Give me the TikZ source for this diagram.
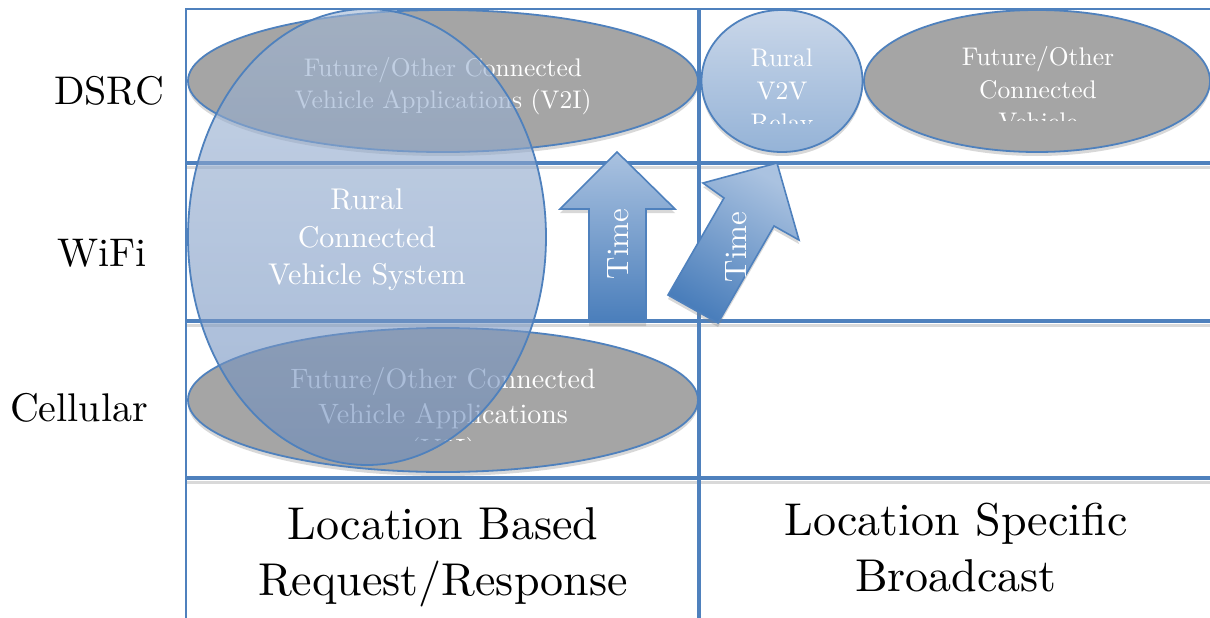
\documentclass[tikz,border=0pt]{standalone}
\usepackage{fontspec}
\setmainfont{lmroman10-regular.otf}
\usetikzlibrary{shadows}
\definecolor{gridblue}{RGB}{79,129,189}
\definecolor{appgray}{RGB}{165,165,165}
\definecolor{cvtop}{RGB}{160,182,212}
\definecolor{cvbottom}{RGB}{105,138,188}
\definecolor{relaytop}{RGB}{202,215,233}
\definecolor{relaybottom}{RGB}{149,179,215}
\definecolor{timetop}{RGB}{170,194,224}
\definecolor{timebottom}{RGB}{74,126,187}
\def\fsize#1#2{\fontsize{#1}{#2}\selectfont}
\tikzset{
  gridline/.style={line width=4.5pt, color=gridblue},
  gridshadow/.style={line width=3pt, color=black!15},
  thinline/.style={line width=1.5pt, color=gridblue},
  softshadow/.style={drop shadow={shadow xshift=0pt, shadow yshift=-4pt, opacity=.3, fill=black!50}},
  appbubble/.style={draw=gridblue, line width=1.8pt, fill=appgray, softshadow},
  relaybubble/.style={draw=gridblue, line width=1.8pt, top color=relaytop, bottom color=relaybottom, softshadow},
  systembubble/.style={draw=gridblue, line width=1.8pt, top color=cvtop, bottom color=cvbottom, fill opacity=.6},
  timearrow/.style={draw=gridblue, line width=1.6pt, top color=timetop, bottom color=timebottom, softshadow},
  rowlabel/.style={font=\fsize{40}{48}, text=black},
  collabel/.style={font=\fsize{46}{56}, align=center, text=black},
  apptext/.style={font=\fsize{25.5}{32.5}, align=center, text=white},
  systemtext/.style={font=\fsize{30}{37.5}, align=center, text=white},
  timetext/.style={font=\fsize{31}{36}, text=white, rotate=90},
}

\begin{document}
\begin{tikzpicture}[x=1pt,y=-1pt]
  %%%%% START %%%%%
  \path[use as bounding box, fill=white] (0,0) rectangle (1210,618);

  % grid
  \foreach \y in {163,321,478}
    \draw[gridshadow] (186,\y+4) -- (1210,\y+4);
  \foreach \y in {163,321,478}
    \draw[gridline] (186,\y) -- (1210,\y);
  \draw[thinline] (186,618) -- (186,9) -- (1210,9);
  \draw[gridline, line width=4pt] (699,9) -- (699,618);

  % DSRC: V2I apps
  \draw[appbubble] (443,81) ellipse [x radius=255, y radius=71];
  \node[apptext] (v2iapps) at (443,86) {Future/Other Connected\\Vehicle Applications (V2I)};

  % Cellular apps
  \draw[appbubble] (443,400) ellipse [x radius=255, y radius=72];
  \begin{scope}
    \clip (188,330) rectangle (698,440);
    \node[apptext, font=\fsize{28}{35}] (cellapps) at (443,416) {Future/Other Connected\\Vehicle Applications\\(V2I)};
  \end{scope}

  % DSRC: relay and other apps
  \draw[relaybubble] (782,81) ellipse [x radius=80.5, y radius=71];
  \begin{scope}
    \clip (702,10) rectangle (863,123);
    \node[apptext] (v2vrelay) at (782,93) {Rural\\V2V\\Relay};
  \end{scope}
  \draw[appbubble] (1037,81) ellipse [x radius=173, y radius=71];
  \begin{scope}
    \clip (863,10) rectangle (1210,120);
    \node[apptext] (othercv) at (1038,89) {Future/Other\\Connected\\Vehicle};
  \end{scope}

  % rural system
  \draw[systembubble] (367,237) ellipse [x radius=179, y radius=228];
  \node[systemtext] (ruralcvs) at (367,240) {Rural\\Connected\\Vehicle System};

  % time arrows
  \draw[timearrow] (589,322) -- (589,209) -- (560,209) -- (617,152) -- (675,209) -- (646,209) -- (646,322) -- cycle;
  \node[timetext] (timeup) at (618,244) {Time};
  \draw[timearrow, shading angle=-30] (668,295) -- (724,198) -- (703,183) -- (777,163) -- (799,240) -- (774,226) -- (718,323) -- cycle;
  \node[timetext] (timediag) at (736,247) {Time};

  % row labels
  \node[rowlabel, anchor=base] (dsrc) at (109,104) {DSRC};
  \node[rowlabel, anchor=base] (wifi) at (102,266) {WiFi};
  \node[rowlabel, anchor=base] (cellular) at (79,421) {Cellular};

  % column labels
  \node[collabel] (reqresp) at (443,557) {Location Based\\Request/Response};
  \node[collabel] (broadcast) at (956,548) {Location Specific\\Broadcast};
  %%%%% END %%%%%
\end{tikzpicture}
\end{document}
